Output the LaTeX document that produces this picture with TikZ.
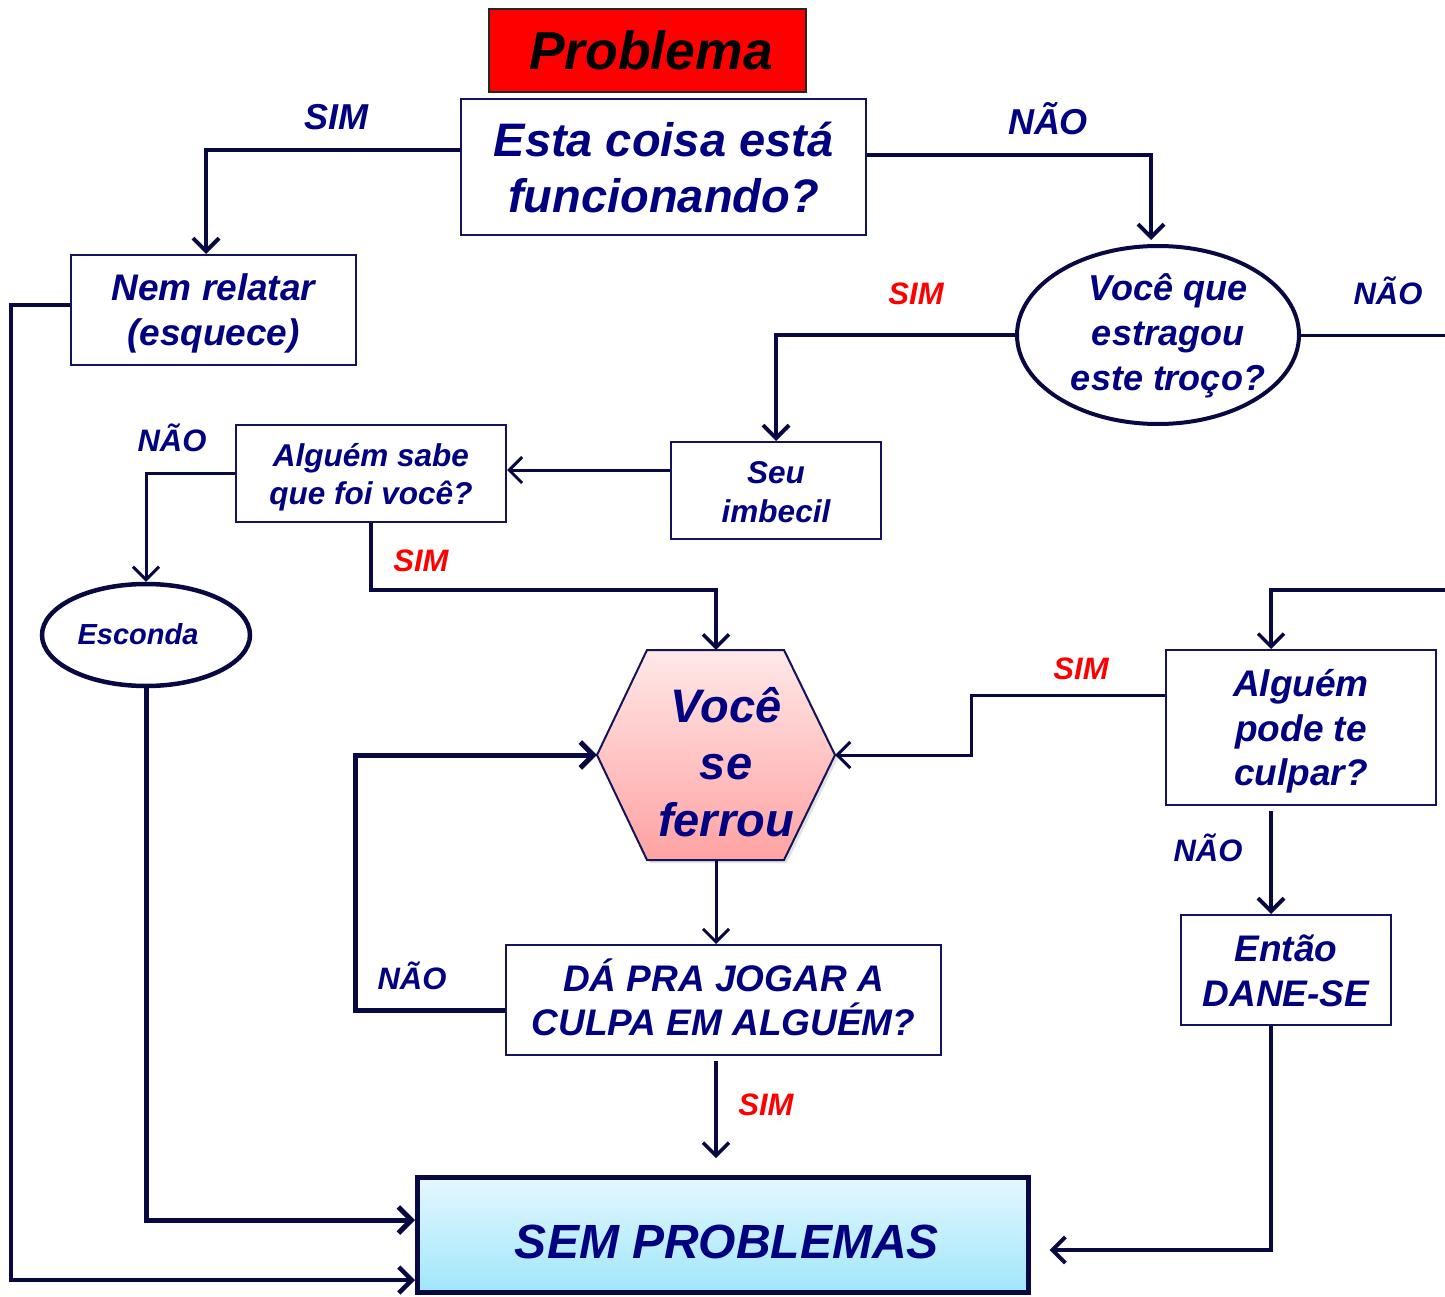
\documentclass[tikz,border=0pt]{standalone}
\usepackage{fontspec}
\setmainfont{Liberation Sans}
\usetikzlibrary{arrows.meta,shapes.geometric,calc}

\definecolor{txtblue}{RGB}{0,0,128}
\definecolor{linecol}{RGB}{8,8,66}
\definecolor{boxcol}{RGB}{20,20,90}
\definecolor{simred}{RGB}{255,0,0}
\definecolor{hextop}{RGB}{255,232,232}
\definecolor{hexbot}{RGB}{255,162,162}
\definecolor{semtop}{RGB}{228,248,255}
\definecolor{sembot}{RGB}{160,230,250}

\newcommand\fsz[2]{\fontsize{#1pt}{#2pt}\selectfont}
% lower a line of text without changing the size of its box
\newcommand\dn[2]{\raisebox{-#1}[\height][\depth]{#2}}

\begin{document}
\begin{tikzpicture}[x=1pt, y=-1pt,
  box/.style={draw=boxcol, line width=2pt, fill=white, inner sep=0pt,
    align=center, text=txtblue},
  ovalbox/.style={ellipse, draw=linecol, fill=white, inner sep=0pt},
  txt/.style={inner sep=0pt, align=center, text=txtblue},
  link/.style={draw=linecol, line width=3pt},
  arr/.style={-{Straight Barb[length=13pt,width=26pt]}},
  lab/.style={inner sep=0pt, text height=22pt, text depth=0pt,
    font=\fsz{31}{37}\bfseries\itshape},
  biglab/.style={inner sep=0pt, text height=26pt, text depth=0pt,
    font=\fsz{36}{43}\bfseries\itshape},
]
\useasboundingbox (0,0) rectangle (1445,1297);

% ---------- hexagon "Você se ferrou" ----------
\fill[gray!45, opacity=0.5, shift={(3,3)}]
  (647,650) -- (784,650) -- (835,755) -- (784,860) -- (647,860) -- (597,755) -- cycle;
\path[draw=boxcol, line width=2pt, top color=hextop, bottom color=hexbot]
  (647,650) -- (784,650) -- (835,755) -- (784,860) -- (647,860) -- (597,755) -- cycle;
\node[inner sep=0pt, minimum width=238pt, minimum height=210pt] (hex) at (716,755) {};
\node[txt, font=\fsz{47}{57}\bfseries\itshape] (hextxt) at (726,762) {Você\\se\\ferrou};

% ---------- boxes ----------
\node[box, draw=black!85, fill=red, text=black, minimum width=317pt, minimum height=83pt,
  font=\fsz{53.5}{60}\bfseries\itshape] (prob) at (647.5,50.5) {\hspace*{7pt}Problema};
\node[box, minimum width=405pt, minimum height=136pt,
  font=\fsz{47}{56}\bfseries\itshape] (q1) at (663.5,167)
  {\dn{1pt}{Esta coisa está}\\\dn{1pt}{funcionando?}};
\node[box, minimum width=285pt, minimum height=110pt,
  font=\fsz{37}{45}\bfseries\itshape] (nem) at (213.5,310)
  {\dn{3.5pt}{Nem relatar}\\\dn{3.5pt}{(esquece)}};
\node[ovalbox, line width=4pt, minimum width=282pt, minimum height=178pt] (ell1) at (1158,335) {};
\node[txt, font=\fsz{36}{45}\bfseries\itshape] (ell1txt) at (1168,336) {Você que\\estragou\\este troço?};
\node[box, minimum width=210pt, minimum height=97pt,
  font=\fsz{31.5}{39}\bfseries\itshape] (seu) at (776,490.5)
  {\dn{1.5pt}{Seu}\\\dn{1.5pt}{imbecil}};
\node[box, minimum width=270pt, minimum height=97pt,
  font=\fsz{31.5}{38}\bfseries\itshape] (sabe) at (371,473.5)
  {\dn{4pt}{Alguém sabe}\\\dn{4pt}{que foi você?}};
\node[ovalbox, line width=4.5pt, minimum width=208pt, minimum height=102pt] (esc) at (146,635) {};
\node[txt, font=\fsz{29}{35}\bfseries\itshape] (esctxt) at (138,634) {Esconda};
\node[box, minimum width=435pt, minimum height=110pt,
  font=\fsz{37}{44}\bfseries\itshape] (da) at (723.5,1000)
  {\dn{-3pt}{DÁ PRA JOGAR A}\\\dn{-3pt}{CULPA EM ALGUÉM?}};
\node[box, draw=linecol, line width=5pt, top color=semtop, bottom color=sembot,
  minimum width=611pt, minimum height=115pt,
  font=\fsz{48}{56}\bfseries\itshape] (sem) at (723,1235) {\dn{7pt}{\hspace*{8pt}SEM PROBLEMAS}};
\node[box, minimum width=270pt, minimum height=155pt,
  font=\fsz{37}{44.5}\bfseries\itshape] (culpa) at (1301,727.5)
  {\dn{4pt}{Alguém}\\\dn{4pt}{pode te}\\\dn{4pt}{culpar?}};
\node[box, minimum width=210pt, minimum height=110pt,
  font=\fsz{37}{45}\bfseries\itshape] (entao) at (1286,970)
  {\dn{1pt}{Então}\\\dn{1pt}{DANE-SE}};

% ---------- free ends at the right edge and above the last box ----------
\coordinate (offR) at (1445,335);
\coordinate (inR) at (1445,590);
\coordinate (semin) at (716,1158);

% ---------- connectors ----------
\draw[link, arr, line width=4pt] ($(q1.west)+(0,-17)$) -| ($(nem.north)+(-7.5,0)$);
\draw[link, arr, line width=4pt] ($(q1.east)+(0,-12)$) -| ($(ell1.north)+(-7,-4)$);
\draw[link, arr, line width=4.5pt] ($(nem.west)+(0,-5)$) -| (11,1280) -- ($(sem.west)+(0,45)$);
\draw[link, arr, line width=4pt] (ell1.west) -| (seu.north);
\draw[link] (ell1.east) -- (offR);
\draw[link, arr, line width=3.5pt] (inR) -| ($(culpa.north)+(-30,0)$);
\draw[link, arr] ($(seu.west)+(0,-20.5)$) -- ($(sabe.east)+(0,-3.5)$);
\draw[link, arr] (sabe.west) -| (esc.north);
\draw[link, arr, line width=3.5pt] (sabe.south) |- ($(hex.north)+(0,-60)$) -- (hex.north);
\draw[link, arr, line width=5pt] (esc.south) |- ($(sem.west)+(0,-15)$);
\draw[link, arr] (hex.south) -- (hex.south |- da.north);
\draw[link, arr, line width=5pt] ($(da.west)+(0,10)$) -| ($(hex.west)+(-241,0)$) -- (hex.west);
\draw[link, arr, line width=3.5pt] ($(da.south)+(-7.5,5)$) -- (semin);
\draw[link, arr] ($(culpa.west)+(0,-32.5)$) -| ($(hex.east)+(136,0)$) -- (hex.east);
\draw[link, arr, line width=4pt] ($(culpa.south)+(-30,5)$) -- ($(entao.north)+(-15,0)$);
\draw[link, arr, line width=4pt] ($(entao.south)+(-15,0)$) |- ($(sem.east)+(18.5,15)$);

% ---------- branch labels ----------
\node[biglab, text=txtblue] (l1) at (336,117) {SIM};
\node[biglab, text=txtblue] (l2) at (1048,122) {NÃO};
\node[lab, text=simred] (l3) at (916,293) {SIM};
\node[lab, text=txtblue] (l4) at (1388,293) {NÃO};
\node[lab, text=txtblue] (l5) at (172,440) {NÃO};
\node[lab, text=simred] (l6) at (421,560) {SIM};
\node[lab, text=simred] (l7) at (1081,668) {SIM};
\node[lab, text=txtblue] (l8) at (1208,850) {NÃO};
\node[lab, text=txtblue] (l9) at (412,978) {NÃO};
\node[lab, text=simred] (l10) at (766,1104) {SIM};
\end{tikzpicture}
\end{document}
